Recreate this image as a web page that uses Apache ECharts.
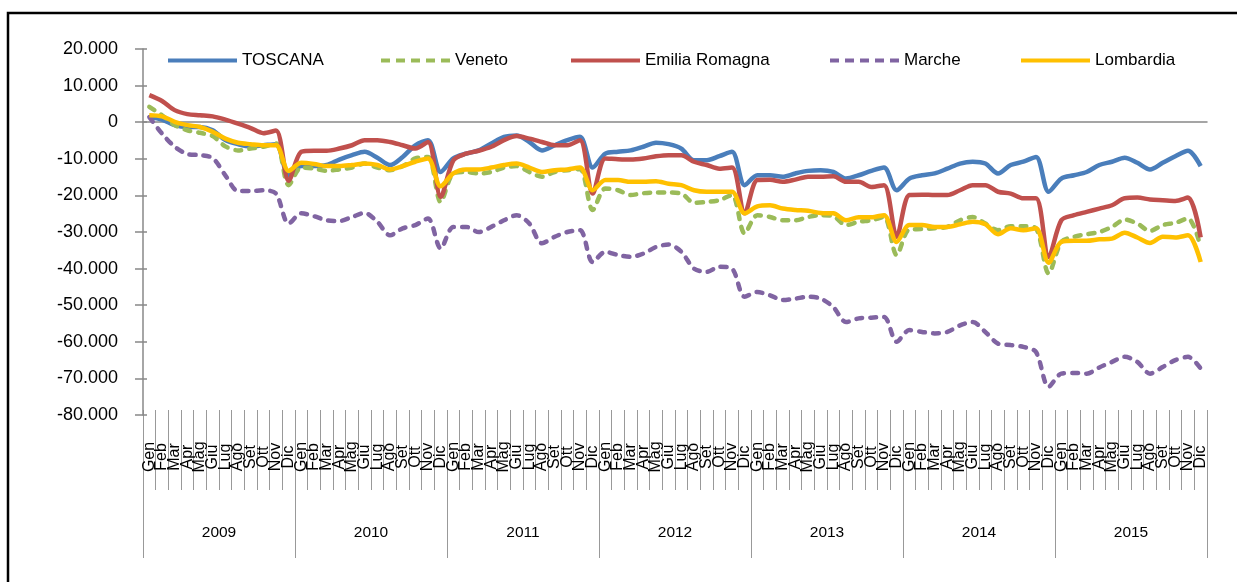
<!DOCTYPE html>
<html>
<head>
<meta charset="utf-8">
<script src="https://cdn.jsdelivr.net/npm/echarts@6/dist/echarts.min.js"></script>
<style>
  html, body { margin: 0; padding: 0; background: #fff; }
  #main { width: 1237px; height: 582px; }
</style>
</head>
<body>
<div id="main"></div>
<script>
// mesi e anni dell'asse X
var months = ['Gen', 'Feb', 'Mar', 'Apr', 'Mag', 'Giu', 'Lug', 'Ago', 'Set', 'Ott', 'Nov', 'Dic'];
var years = ['2009', '2010', '2011', '2012', '2013', '2014', '2015'];

// serie mensili, 2009-2015
var toscana = [
  1400, 700, -800, -1300, -1300, -2200, -4900, -6000, -6600, -6300, -6000, -14500,
  -12000, -12000, -11700, -10200, -9000, -8100, -9700, -11700, -9500, -6300, -4900, -13600,
  -9900, -8600, -7700, -5800, -4000, -3600, -5400, -7700, -6300, -4900, -4000, -12400,
  -8600, -8100, -7700, -6700, -5600, -6000, -7200, -10400, -10400, -9300, -8100, -17200,
  -14500, -14500, -14900, -14000, -13300, -13100, -13600, -15400, -14500, -13300, -12400, -18600,
  -15400, -14500, -14000, -12700, -11300, -10800, -11300, -14000, -11700, -10800, -9500, -19000,
  -15400, -14500, -13600, -11700, -10800, -9700, -11100, -12900, -11100, -9300, -7800, -12000
];
var veneto = [
  4200, 1900, -800, -2200, -2900, -3800, -6600, -7700, -7200, -6700, -5800, -17200,
  -12400, -12700, -13300, -12900, -12400, -11300, -12400, -13100, -12000, -9900, -9500, -21800,
  -14000, -13600, -14000, -13600, -12400, -12000, -13600, -14900, -13600, -13100, -12800, -24000,
  -18100, -18600, -19900, -19400, -19200, -19200, -19500, -22000, -21800, -21300, -19900, -30400,
  -25400, -25900, -26800, -26800, -25900, -25400, -25700, -28100, -27200, -26800, -25900, -36300,
  -29300, -29200, -29000, -28600, -26800, -25900, -27700, -29500, -28400, -28400, -29000, -41300,
  -32700, -31300, -30600, -30000, -28600, -26600, -27700, -29700, -28100, -27500, -26300, -34100
];
var emilia = [
  7400, 5800, 3300, 2200, 1900, 1600, 700, -400, -1600, -3000, -2300, -16000,
  -8100, -7800, -7800, -7200, -6300, -4900, -4900, -5400, -6300, -7200, -5400, -20400,
  -10400, -8600, -7800, -6700, -4900, -3800, -4500, -5400, -6300, -6300, -4900, -19500,
  -9900, -10100, -10200, -9900, -9300, -9000, -9000, -10800, -11700, -12700, -12400, -24900,
  -15800, -15700, -16300, -15700, -14900, -14900, -14800, -16300, -16300, -17700, -17200, -31300,
  -19900, -19800, -19900, -19900, -18600, -17200, -17200, -19000, -19500, -20800, -20800, -36800,
  -26800, -25400, -24500, -23600, -22700, -20800, -20600, -21100, -21300, -21500, -20600, -31500
];
var marche = [
  1400, -3100, -6700, -8700, -9000, -9800, -14500, -18800, -18800, -18600, -19500, -27700,
  -24900, -25700, -26800, -27000, -25900, -24800, -27200, -30900, -29000, -28100, -26300, -34500,
  -28600, -28600, -30000, -28600, -26800, -25400, -27700, -33100, -31300, -30000, -29500, -38200,
  -35400, -36300, -36800, -35900, -34100, -33400, -35400, -40000, -40900, -39500, -40000, -47700,
  -46400, -47300, -48600, -48200, -47700, -48200, -50500, -54600, -53600, -53400, -53200, -60000,
  -56800, -57300, -57700, -57300, -55500, -54600, -57300, -60500, -60900, -61400, -62800, -72300,
  -68700, -68500, -68700, -67000, -65500, -64100, -65500, -68700, -66900, -65000, -64100, -67300
];
var lombardia = [
  1900, 1600, 100, -800, -1300, -2600, -4500, -5600, -6000, -6300, -6300, -13300,
  -11100, -11400, -12000, -12000, -11700, -11300, -11700, -12900, -12000, -10800, -9900, -17500,
  -14000, -12900, -12900, -12400, -11700, -11300, -12400, -13600, -13100, -12900, -12400, -18600,
  -15800, -15800, -16300, -16300, -16100, -16800, -17200, -18600, -19000, -19000, -19000, -24900,
  -23000, -22700, -23600, -24000, -24200, -24800, -24900, -26800, -26000, -26000, -25400, -32700,
  -28100, -28100, -28600, -28600, -27900, -27200, -27900, -30600, -29000, -29500, -29000, -38400,
  -32700, -32400, -32400, -32000, -31800, -30200, -31500, -33000, -31300, -31500, -30900, -38200
];

var seriesNames = ['TOSCANA', 'Veneto', 'Emilia Romagna', 'Marche', 'Lombardia'];
var seriesData = [toscana, veneto, emilia, marche, lombardia];

// aspetto
var colors = ['#4A7EBB', '#9BBB59', '#C0504D', '#8064A2', '#FFC000'];
var dashed = [false, true, false, true, false];
var legendLeft = [163, 376, 566, 825, 1016];
var FONT = '"Liberation Sans", Arial, sans-serif';
var GRAY = '#888888';
// icone della legenda: linea piena o tratteggiata
var ICON_SOLID = 'path://M0,0h69v4h-69z';
var ICON_DASH = 'path://M0,0h9v4h-9z M15,0h9v4h-9z M30,0h9v4h-9z M45,0h9v4h-9z M60,0h9v4h-9z';

var categories = [];
for (var y = 0; y < years.length; y++) {
  for (var m = 0; m < months.length; m++) {
    categories.push(months[m] + ' ' + years[y]);
  }
}

function fmt(v) {
  var s = String(Math.abs(v)).replace(/\B(?=(\d{3})+(?!\d))/g, '.');
  return (v < 0 ? '-' : '') + s;
}

var myChart = echarts.init(document.getElementById('main'));

var series = [];
for (var i = 0; i < seriesNames.length; i++) {
  series.push({
    name: seriesNames[i],
    type: 'line',
    xAxisIndex: 0,
    yAxisIndex: 0,
    data: seriesData[i],
    smooth: 0.3,
    symbol: 'none',
    showSymbol: false,
    lineStyle: {
      width: 4.5,
      color: colors[i],
      type: dashed[i] ? [6, 8] : 'solid',
      cap: dashed[i] ? 'round' : 'butt'
    },
    itemStyle: { color: colors[i] }
  });
}

var legends = [];
for (var k = 0; k < seriesNames.length; k++) {
  legends.push({
    data: [{ name: seriesNames[k], icon: dashed[k] ? ICON_DASH : ICON_SOLID }],
    left: legendLeft[k],
    top: 47,
    itemWidth: 69,
    itemHeight: 4.5,
    selectedMode: false,
    itemStyle: { color: colors[k] },
    textStyle: { fontFamily: FONT, fontSize: 17, color: '#000' }
  });
}

myChart.setOption({
  animation: false,
  color: colors,
  legend: legends,
  graphic: [{
    type: 'rect',
    shape: { x: 8, y: 13, width: 1400, height: 700 },
    style: { fill: 'none', stroke: '#000', lineWidth: 2.5 },
    silent: true
  }],
  grid: [
    { left: 143, right: 30, top: 49, height: 366 },
    { left: 143, right: 30, top: 410, height: 80 },
    { left: 143, right: 30, top: 410, height: 148 }
  ],
  xAxis: [
    {
      gridIndex: 0, type: 'category', data: categories, boundaryGap: true,
      axisLine: { onZero: true, lineStyle: { color: GRAY, width: 1.5 } },
      axisTick: { interval: 0, length: 6, lineStyle: { color: GRAY, width: 1.5 } },
      axisLabel: { show: false }
    },
    {
      gridIndex: 0, type: 'category', data: categories, boundaryGap: true,
      axisLine: { show: false, onZero: true },
      axisTick: { interval: 0, inside: true, length: 6, lineStyle: { color: GRAY, width: 1.5 } },
      axisLabel: { show: false }
    },
    {
      // mesi
      gridIndex: 1, type: 'category', data: categories, boundaryGap: true, position: 'bottom',
      axisLine: { show: false }, axisTick: { show: false },
      splitLine: { show: true, interval: 0, lineStyle: { color: '#999', width: 1 } },
      axisLabel: {
        interval: 0, rotate: 90, align: 'center', verticalAlign: 'middle', margin: -33,
        fontFamily: FONT, fontSize: 16, color: '#000',
        formatter: function (v) { return v.split(' ')[0]; }
      }
    },
    {
      // anni
      gridIndex: 2, type: 'category', data: years, boundaryGap: true, position: 'bottom',
      axisLine: { show: false }, axisTick: { show: false },
      splitLine: { show: true, interval: 0, lineStyle: { color: '#999', width: 1 } },
      axisLabel: {
        interval: 0, verticalAlign: 'middle', margin: -25,
        fontFamily: FONT, fontSize: 15.5, color: '#000'
      }
    }
  ],
  yAxis: [
    {
      gridIndex: 0, type: 'value', min: -80000, max: 20000, interval: 10000,
      axisLine: { show: true, lineStyle: { color: GRAY, width: 1.5 } },
      axisTick: { show: true, length: 8, lineStyle: { color: GRAY, width: 1.5 } },
      splitLine: { show: false },
      axisLabel: { margin: 25, fontFamily: FONT, fontSize: 18, color: '#000', formatter: fmt }
    },
    {
      gridIndex: 0, type: 'value', min: -80000, max: 20000, interval: 10000, position: 'left',
      axisLine: { show: false },
      axisTick: { show: true, inside: true, length: 4, lineStyle: { color: GRAY, width: 1.5 } },
      splitLine: { show: false }, axisLabel: { show: false }
    },
    { gridIndex: 1, type: 'value', min: 0, max: 1, show: false },
    { gridIndex: 2, type: 'value', min: 0, max: 1, show: false }
  ],
  series: series
});
</script>
</body>
</html>
